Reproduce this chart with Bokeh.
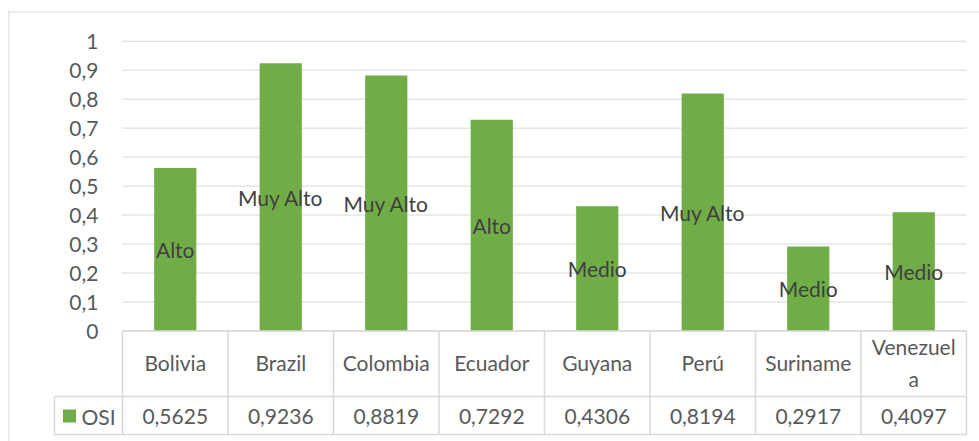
from bokeh.plotting import figure
from bokeh.models import ColumnDataSource, Span
from bokeh.core.properties import value
from bokeh.embed import file_html
from bokeh.resources import INLINE

# ---- data ----
countries = ["Bolivia", "Brazil", "Colombia", "Ecuador", "Guyana", "Perú", "Suriname", "Venezuel\na"]
osi = [0.5625, 0.9236, 0.8819, 0.7292, 0.4306, 0.8194, 0.2917, 0.4097]
levels = ["Alto", "Muy Alto", "Muy Alto", "Alto", "Medio", "Muy Alto", "Medio", "Medio"]
series_name = "OSI"
y_ticks = [0, 0.1, 0.2, 0.3, 0.4, 0.5, 0.6, 0.7, 0.8, 0.9, 1]

# ---- layout constants (pixels -> data) ----
W, H = 979, 441
FL, FT = 7, 10                 # frame left/top in px
X0PX, CATW = 122.0, 105.5      # px of x=0, px per category
Y0PX, UNIT = 330.5, 289.8      # px of y=0, px per 1.0

def xv(px):
    return (px - X0PX) / CATW

def yv(px):
    return (Y0PX - px) / UNIT

FONT = value("Lato")
FS = "21px"
GREEN = "#70ad47"
GRID = "#d9d9d9"
TXT = "#595959"

p = figure(width=W, height=H, output_backend="svg", toolbar_location=None,
           x_range=(xv(FL), xv(W)), y_range=(yv(H), yv(FT)),
           x_axis_location=None, y_axis_location=None,
           min_border_left=FL, min_border_top=FT, min_border_right=0, min_border_bottom=0)
p.grid.visible = False
p.outline_line_color = None
p.background_fill_color = "white"
p.border_fill_color = "white"

n = len(countries)
xc = [i + 0.5 for i in range(n)]

# outer chart border (left, top)
p.add_layout(Span(location=xv(8.5), dimension="height", line_color=GRID, line_width=1))
p.add_layout(Span(location=yv(11.5), dimension="width", line_color=GRID, line_width=1))

# gridlines
p.segment(x0=[0] * len(y_ticks), x1=[n] * len(y_ticks), y0=y_ticks, y1=y_ticks,
          line_color=GRID, line_width=1)

# y tick labels
tick_labels = [("%g" % t).replace(".", ",") for t in y_ticks]
p.text(x=[0] * len(y_ticks), y=y_ticks, text=tick_labels, x_offset=-24,
       text_align="right", text_baseline="middle", text_font=FONT,
       text_font_size=FS, text_color=TXT)

# bars
src = ColumnDataSource(dict(x=xc, top=osi, mid=[v / 2 for v in osi], lab=levels))
p.vbar(x="x", top="top", width=0.4, bottom=0, source=src, fill_color=GREEN, line_color=None)

# data labels (center)
p.text(x="x", y="mid", text="lab", source=src, text_align="center", text_baseline="middle",
       text_font=FONT, text_font_size=FS, text_color="#404040")

# ---- data table ----
row_top, row_mid, row_bot = 0, yv(396), yv(434)
leg_left = xv(54)
# horizontal lines
p.segment(x0=[0, leg_left, leg_left], x1=[n, n, n], y0=[row_top, row_mid, row_bot],
          y1=[row_top, row_mid, row_bot], line_color=GRID, line_width=1.5)
# vertical lines
vx = list(range(n + 1))
p.segment(x0=vx, x1=vx, y0=[row_top] * (n + 1), y1=[row_bot] * (n + 1),
          line_color=GRID, line_width=1.5)
p.segment(x0=[leg_left], x1=[leg_left], y0=[row_mid], y1=[row_bot],
          line_color=GRID, line_width=1.5)

# category names
p.text(x=xc, y=[yv(362)] * n, text=countries, text_align="center", text_baseline="middle",
       text_font=FONT, text_font_size=FS, text_color=TXT, text_line_height=1.3)
# values
val_txt = [("%.4f" % v).replace(".", ",") for v in osi]
p.text(x=xc, y=[yv(415.5)] * n, text=val_txt, text_align="center", text_baseline="middle",
       text_font=FONT, text_font_size=FS, text_color=TXT)
# legend key
p.scatter(x=[xv(69)], y=[yv(415.5)], marker="square", size=13, fill_color=GREEN, line_color=None)
p.text(x=[xv(81)], y=[yv(415.5)], text=[series_name], text_align="left", text_baseline="middle",
       text_font=FONT, text_font_size=FS, text_color=TXT)

open("out.html", "w").write(file_html(p, INLINE))
